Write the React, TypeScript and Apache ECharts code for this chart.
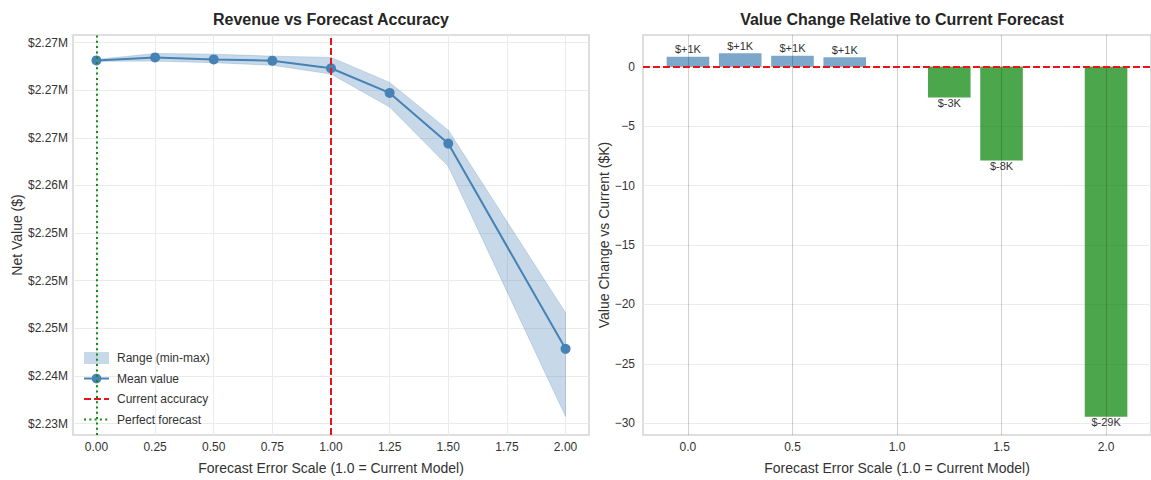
import React, { useEffect, useRef } from 'react';
import * as echarts from 'echarts';

// ---- data ----
const scales = [0, 0.25, 0.5, 0.75, 1.0, 1.25, 1.5, 2.0];
const meanValues = [2273135, 2273446, 2273238, 2273104, 2272306, 2269715, 2264399, 2242845];
const minValues = [2273031, 2273062, 2272896, 2272617, 2271705, 2268233, 2262016, 2235756];
const maxValues = [2273238, 2273860, 2273788, 2273580, 2273446, 2270824, 2265808, 2246637];

const leftXTicks = [0, 0.25, 0.5, 0.75, 1.0, 1.25, 1.5, 1.75, 2.0];
const leftYTicks = [2235000, 2240000, 2245000, 2250000, 2255000, 2260000, 2265000, 2270000, 2275000];

const changeScales = [0, 0.25, 0.5, 0.75, 1.25, 1.5, 2.0];
const changeValuesK = [0.83, 1.14, 0.93, 0.8, -2.59, -7.9, -29.46];

const rightXTicks = [0, 0.5, 1.0, 1.5, 2.0];
const rightYTicks = [-30, -25, -20, -15, -10, -5, 0];

const currentScale = 1.0;
const perfectScale = 0.0;

const FONT = "'Liberation Sans', Arial, sans-serif";
const STEEL = '#4682b4';
const BAND = 'rgba(70,130,180,0.3)';
const RED = '#e8141b';
const GREEN = '#168a16';
const GRID_LINE = '#ebebeb';
const FRAME = '#d4d4d4';
const TEXT = '#333333';

export default function App() {
  const ref = useRef<HTMLDivElement>(null);

  useEffect(() => {
    if (!ref.current) return;
    const chart = echarts.init(ref.current, undefined, { renderer: 'svg' });

    const bandData = scales.map((x, i) => [x, minValues[i], maxValues[i]]);
    const meanData = scales.map((x, i) => [x, meanValues[i]]);

    const barData = changeScales.map((x, i) => {
      const v = changeValuesK[i];
      return {
        value: [x, v],
        itemStyle: { color: v >= 0 ? 'rgba(70,130,180,0.7)' : 'rgba(0,128,0,0.7)' },
        label: { position: v >= 0 ? 'top' : 'bottom', distance: v >= 0 ? 2 : 0 },
      };
    });

    const option: any = {
      animation: false,
      textStyle: { fontFamily: FONT },
      title: [
        {
          text: 'Revenue vs Forecast Accuracy',
          left: 331,
          top: 11,
          padding: 0,
          textAlign: 'center',
          textStyle: { fontSize: 16, fontWeight: 'bold', color: '#262626', fontFamily: FONT },
        },
        {
          text: 'Value Change Relative to Current Forecast',
          left: 902,
          top: 11,
          padding: 0,
          textAlign: 'center',
          textStyle: { fontSize: 16, fontWeight: 'bold', color: '#262626', fontFamily: FONT },
        },
      ],
      legend: {
        orient: 'vertical',
        left: 83,
        top: 352,
        itemWidth: 25,
        itemHeight: 12,
        itemGap: 8.5,
        padding: 0,
        textStyle: { fontSize: 12, color: TEXT, fontFamily: FONT, padding: [0, 0, 0, 3] },
        data: [
          { name: 'Range (min-max)', icon: 'rect' },
          { name: 'Mean value' },
          { name: 'Current accuracy', itemStyle: { opacity: 0 } },
          { name: 'Perfect forecast', itemStyle: { opacity: 0 } },
        ],
      },
      grid: [
        { left: 73, top: 35, width: 516, height: 406, show: true, borderColor: FRAME, borderWidth: 1.5, backgroundColor: 'transparent' },
        { left: 643, top: 35, width: 517, height: 405, show: true, borderColor: FRAME, borderWidth: 1.5, backgroundColor: 'transparent' },
      ],
      xAxis: [
        {
          type: 'value',
          gridIndex: 0,
          min: -0.1,
          max: 2.1,
          axisLine: { show: false },
          axisTick: { show: false, customValues: leftXTicks },
          axisLabel: { customValues: leftXTicks, formatter: (v: number) => v.toFixed(2), fontSize: 12, color: TEXT, margin: 6 },
          splitLine: { show: true, lineStyle: { color: GRID_LINE, width: 1 } },
          name: 'Forecast Error Scale (1.0 = Current Model)',
          nameLocation: 'middle',
          nameGap: 26,
          nameTextStyle: { fontSize: 14, color: TEXT, fontFamily: FONT },
        },
        {
          type: 'value',
          gridIndex: 1,
          min: -0.215,
          max: 2.215,
          axisLine: { show: false },
          axisTick: { show: false, customValues: rightXTicks },
          axisLabel: { customValues: rightXTicks, formatter: (v: number) => v.toFixed(1), fontSize: 12, color: TEXT, margin: 6 },
          splitLine: { show: false },
          name: 'Forecast Error Scale (1.0 = Current Model)',
          nameLocation: 'middle',
          nameGap: 26,
          nameTextStyle: { fontSize: 14, color: TEXT, fontFamily: FONT },
        },
      ],
      yAxis: [
        {
          type: 'value',
          gridIndex: 0,
          min: 2233800,
          max: 2275800,
          axisLine: { show: false },
          axisTick: { show: false, customValues: leftYTicks },
          axisLabel: {
            customValues: leftYTicks,
            formatter: (v: number) => '$' + (v / 1e6).toFixed(2) + 'M',
            fontSize: 12,
            color: TEXT,
            margin: 5,
          },
          splitLine: { show: true, lineStyle: { color: GRID_LINE, width: 1 } },
          name: 'Net Value ($)',
          nameLocation: 'middle',
          nameGap: 48,
          nameTextStyle: { fontSize: 14, color: TEXT, fontFamily: FONT },
        },
        {
          type: 'value',
          gridIndex: 1,
          min: -30.99,
          max: 2.67,
          axisLine: { show: false },
          axisTick: { show: false, customValues: rightYTicks },
          axisLabel: {
            customValues: rightYTicks,
            formatter: (v: number) => (v < 0 ? '\u2212' + Math.abs(v) : String(v)),
            fontSize: 12,
            color: TEXT,
            margin: 8,
          },
          splitLine: { show: true, lineStyle: { color: GRID_LINE, width: 1 } },
          name: 'Value Change vs Current ($K)',
          nameLocation: 'middle',
          nameGap: 30,
          nameTextStyle: { fontSize: 14, color: TEXT, fontFamily: FONT },
        },
      ],
      series: [
        {
          name: 'Range (min-max)',
          type: 'custom',
          xAxisIndex: 0,
          yAxisIndex: 0,
          data: bandData,
          encode: { x: 0, y: [1, 2] },
          silent: true,
          clip: false,
          itemStyle: { color: BAND },
          z: 1,
          renderItem: (params: any, api: any) => {
            if (params.dataIndex !== 0) return null;
            const upper = bandData.map((d) => api.coord([d[0], d[2]]));
            const lower = bandData.map((d) => api.coord([d[0], d[1]])).reverse();
            return {
              type: 'polygon',
              shape: { points: upper.concat(lower) },
              style: { fill: BAND, stroke: 'rgba(70,130,180,0.25)', lineWidth: 1 },
            };
          },
        },
        {
          name: 'Mean value',
          type: 'line',
          xAxisIndex: 0,
          yAxisIndex: 0,
          data: meanData,
          symbol: 'circle',
          symbolSize: 10,
          lineStyle: { color: STEEL, width: 2 },
          itemStyle: { color: STEEL },
          z: 3,
        },
        {
          name: 'Current accuracy',
          type: 'line',
          xAxisIndex: 0,
          yAxisIndex: 0,
          data: [],
          symbol: 'none',
          lineStyle: { color: RED, width: 2, type: [7, 3] },
          itemStyle: { color: RED },
          z: 5,
          markLine: {
            silent: true,
            symbol: ['none', 'none'],
            label: { show: false },
            lineStyle: { color: RED, width: 2, type: [7, 3] },
            data: [{ xAxis: currentScale }],
          },
        },
        {
          name: 'Perfect forecast',
          type: 'line',
          xAxisIndex: 0,
          yAxisIndex: 0,
          data: [],
          symbol: 'none',
          lineStyle: { color: GREEN, width: 2, type: [2, 3.3] },
          itemStyle: { color: GREEN },
          z: 5,
          markLine: {
            silent: true,
            symbol: ['none', 'none'],
            label: { show: false },
            lineStyle: { color: GREEN, width: 2, type: [2, 3.3] },
            data: [{ xAxis: perfectScale }],
          },
        },
        {
          name: 'Value change',
          type: 'bar',
          xAxisIndex: 1,
          yAxisIndex: 1,
          barWidth: 42.6,
          data: barData,
          label: {
            show: true,
            fontSize: 11,
            color: TEXT,
            fontFamily: FONT,
            formatter: (p: any) => {
              const v = p.value[1];
              return '$' + (v >= 0 ? '+' : '') + Math.round(v) + 'K';
            },
          },
          z: 2,
          markLine: {
            silent: true,
            symbol: ['none', 'none'],
            label: { show: false },
            data: [
              ...rightXTicks.map((x) => ({ xAxis: x, lineStyle: { color: 'rgba(0,0,0,0.18)', width: 1, type: 'solid' } })),
              { yAxis: 0, lineStyle: { color: RED, width: 2, type: [7, 3] } },
            ],
          },
        },
      ],
    };

    chart.setOption(option);
    return () => chart.dispose();
  }, []);

  return (
    <div
      ref={ref}
      style={{ position: 'absolute', left: 0, top: 0, width: 1151, height: 480, background: '#ffffff' }}
    />
  );
}
